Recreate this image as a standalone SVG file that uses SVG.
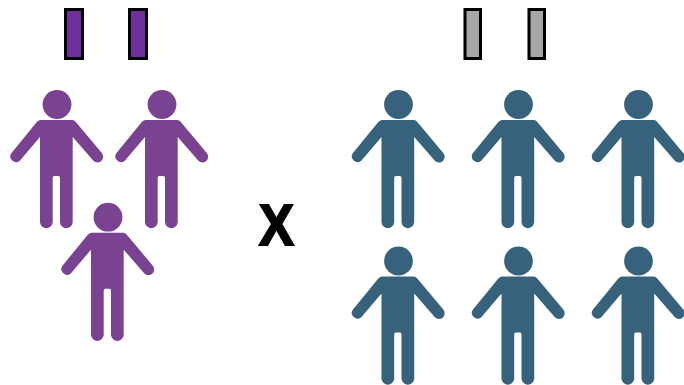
<svg xmlns="http://www.w3.org/2000/svg" xmlns:xlink="http://www.w3.org/1999/xlink" width="684" height="385" viewBox="0 0 684 385">
<style>
.bar{stroke:#000;stroke-width:3}
.p{fill:#7a4392}.b{fill:#36627b}
.x{font-family:"Liberation Sans",Arial,sans-serif;font-weight:700;font-size:58px;text-anchor:middle;fill:#000;stroke:#000;stroke-width:2}
</style>
<defs>
<g id="person">
<circle cx="0.2" cy="104.5" r="14.4"/>
<path d="M-16,120 H15.500 Q17.500,120 19,122 L45,153 A5.700,5.700 0 0 1 36.600,160.700 L15.900,137 V222.500 A6.400,6.500 0 0 1 3.200,222.500 V178 Q3.200,176 1.500,176 H-2.500 Q-4.100,176 -4.100,178 V222.500 A6.400,6.500 0 0 1 -16.800,222.500 V137 L-37,160.700 A5.700,5.700 0 0 1 -45.300,153 L-20,122 Q-18,120 -16,120 Z"/>
</g>
</defs>
<rect width="684" height="385" fill="#fff"/>
<g id="bar-purple-1"><rect class="bar" x="65.500" y="9.500" width="17" height="49" fill="#7030a0"/></g>
<g id="bar-purple-2"><rect class="bar" x="129.500" y="9.500" width="17" height="49" fill="#7030a0"/></g>
<g id="bar-gray-1"><rect class="bar" x="465" y="9.500" width="15.500" height="49" fill="#a6a6a6"/></g>
<g id="bar-gray-2"><rect class="bar" x="529" y="9.500" width="15.500" height="49" fill="#a6a6a6"/></g>
<g id="person-p1" class="p"><use href="#person" xlink:href="#person" x="56.800" y="0"/></g>
<g id="person-p2" class="p"><use href="#person" xlink:href="#person" x="161.800" y="0"/></g>
<g id="person-p3" class="p"><use href="#person" xlink:href="#person" x="107.800" y="112.700"/></g>
<g id="person-b1" class="b"><use href="#person" xlink:href="#person" x="398.300" y="0"/></g>
<g id="person-b2" class="b"><use href="#person" xlink:href="#person" x="518.300" y="0"/></g>
<g id="person-b3" class="b"><use href="#person" xlink:href="#person" x="638.300" y="0"/></g>
<g id="person-b4" class="b"><use href="#person" xlink:href="#person" x="398.300" y="156.500"/></g>
<g id="person-b5" class="b"><use href="#person" xlink:href="#person" x="518.300" y="156.500"/></g>
<g id="person-b6" class="b"><use href="#person" xlink:href="#person" x="638.300" y="156.500"/></g>
<g id="times"><text class="x" transform="translate(276.500 245) scale(0.9 1)" x="0" y="0">X</text></g>
<g id="connectors"></g>
</svg>
